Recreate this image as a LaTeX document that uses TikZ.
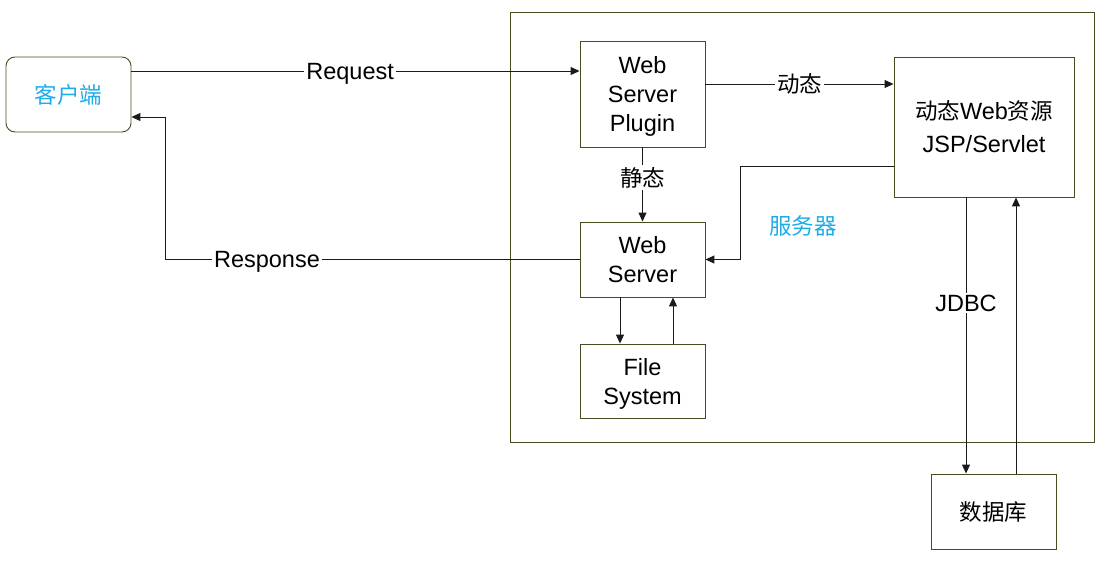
\documentclass[tikz,border=0pt]{standalone}
\usepackage{fontspec}
\setmainfont{Liberation Sans}
\newfontfamily\cjk{Noto Sans CJK SC}
\usetikzlibrary{arrows.meta}
\definecolor{boxline}{RGB}{66,80,32}
\definecolor{bluetxt}{RGB}{30,172,232}
\definecolor{conn}{RGB}{26,26,26}
\newcommand{\latfont}{\fontsize{23.5}{29}\selectfont}
\newcommand{\hanfont}{\fontsize{22.5}{29}\selectfont\cjk}
\tikzset{
  box/.style={draw=boxline, line width=0.9pt, minimum width=125pt, minimum height=75pt, inner sep=0pt, align=center, font=\latfont},
  latbox/.style={box, text depth=0pt},
  arr/.style={draw=conn, line width=1pt, -{Triangle[length=9pt,width=8pt]}},
  lbl/.style={fill=white, inner sep=2pt, font=\latfont, text=black},
  latlbl/.style={lbl, text depth=0pt}
}
\begin{document}
\begin{tikzpicture}[x=1pt,y=-1pt]
\useasboundingbox (0,0) rectangle (1115,573);
% container
\node[draw=boxline, line width=0.9pt, minimum width=584pt, minimum height=430pt, inner sep=0pt] (server) at (802,227) {};
\node[text=bluetxt, font=\hanfont] (serverlbl) at (803,226) {服务器};
% nodes
\node[box, rounded corners=9pt, text=bluetxt, font=\hanfont] (client) at (68.5,94.5) {客户端};
\node[latbox, minimum height=106pt] (plugin) at (642.5,94) {Web\\Server\\Plugin};
\node[latbox] (ws) at (642.5,259.5) {Web\\Server};
\node[latbox, minimum height=74pt] (fs) at (642.5,381) {File\\System};
\node[latbox, minimum width=180pt, minimum height=140pt, font=\fontsize{23.5}{33}\selectfont] (jsp) at (984,127) {{\fontsize{22.5}{33}\selectfont\cjk 动态}Web{\fontsize{22.5}{33}\selectfont\cjk 资源}\\JSP/Servlet};
\node[box, font=\hanfont] (db) at (993.5,511.5) {数据库};
% connectors
\draw[arr] (client.east |- 0,71) -- node[latlbl, pos=0.488] {Request} (plugin.west |- 0,71);
\draw[arr] (ws.west) -- node[latlbl, pos=0.754] {Response} (165,259.5) -- (165,117) -- (client.east |- 0,117);
\draw[arr] (plugin.east |- 0,84) -- node[lbl, font=\hanfont] {动态} (jsp.west |- 0,84);
\draw[arr] (plugin.south) -- node[lbl, pos=0.41, font=\hanfont] {静态} (ws.north);
\draw[arr] (jsp.west |- 0,166) -- (740,166) -- (740,259.5) -- (ws.east);
\draw[arr] (ws.south -| 620,0) -- (fs.north -| 620,0);
\draw[arr] (fs.north -| 673,0) -- (ws.south -| 673,0);
\draw[arr] (jsp.south -| 966,0) -- node[latlbl, pos=0.383] {JDBC} (db.north -| 966,0);
\draw[arr] (db.north -| 1016,0) -- (jsp.south -| 1016,0);
\end{tikzpicture}
\end{document}
